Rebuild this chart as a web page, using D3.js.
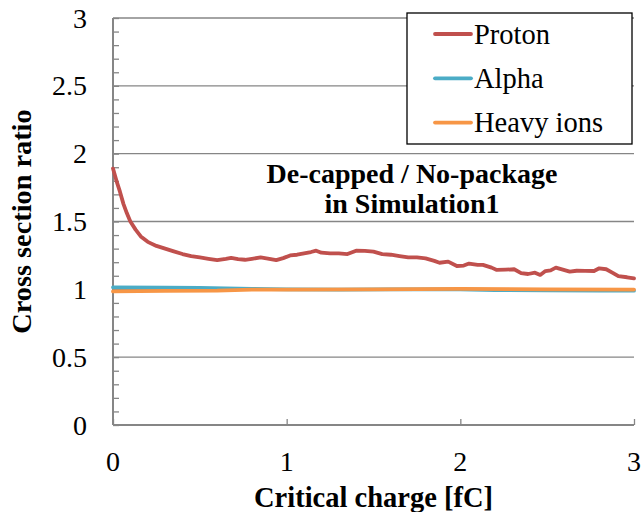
<!DOCTYPE html>
<html>
<head>
<meta charset="utf-8">
<script src="https://cdn.jsdelivr.net/npm/d3@7"></script>
<style>
  body { margin: 0; background: #fff; }
</style>
</head>
<body>
<div id="chart"></div>
<script>
// Cross section ratio vs critical charge (De-capped / No-package)
const protonX = [0, 0.02, 0.04, 0.06, 0.08, 0.10, 0.13, 0.16, 0.20, 0.25, 0.30, 0.35, 0.40, 0.45, 0.50,
    0.55, 0.60, 0.65, 0.68, 0.72, 0.76, 0.80, 0.85, 0.90, 0.94, 0.98, 1.02, 1.06, 1.10, 1.14, 1.17,
    1.20, 1.25, 1.30, 1.35, 1.40, 1.45, 1.50, 1.55, 1.60, 1.65, 1.70, 1.75, 1.80, 1.85, 1.88, 1.93,
    1.98, 2.02, 2.05, 2.10, 2.13, 2.18, 2.21, 2.26, 2.31, 2.35, 2.39, 2.43, 2.46, 2.49, 2.52, 2.55,
    2.59, 2.63, 2.67, 2.72, 2.77, 2.80, 2.84, 2.88, 2.91, 2.96, 3.00];
const protonY = [1.89, 1.80, 1.72, 1.63, 1.56, 1.50, 1.44, 1.39, 1.35, 1.32, 1.30, 1.28, 1.26, 1.245, 1.235,
    1.225, 1.215, 1.225, 1.232, 1.222, 1.218, 1.225, 1.235, 1.225, 1.215, 1.23, 1.25, 1.255, 1.265, 1.275, 1.285,
    1.27, 1.265, 1.265, 1.26, 1.285, 1.283, 1.278, 1.26, 1.255, 1.245, 1.236, 1.235, 1.228, 1.21, 1.196, 1.204,
    1.172, 1.175, 1.19, 1.18, 1.18, 1.16, 1.143, 1.145, 1.148, 1.12, 1.113, 1.123, 1.106, 1.135, 1.14, 1.16,
    1.145, 1.13, 1.137, 1.136, 1.135, 1.155, 1.148, 1.12, 1.097, 1.089, 1.081];

const alphaX = [0, 0.3, 0.5, 0.8, 1.0, 1.3, 1.6, 2.0, 2.2, 2.5, 2.8, 3.0];
const alphaY = [1.015, 1.012, 1.01, 1.003, 1.0, 0.998, 1.0, 1.0, 0.995, 0.993, 0.99, 0.99];

const heavyX = [0, 0.3, 0.6, 0.8, 1.0, 1.5, 2.0, 2.5, 3.0];
const heavyY = [0.985, 0.988, 0.99, 0.998, 0.998, 1.0, 1.003, 1.0, 0.998];

const seriesNames = ['Proton', 'Alpha', 'Heavy ions'];
const seriesColors = ['#C0504D', '#4BACC6', '#F79646'];
const xTicks = [0, 1, 2, 3];
const yTicks = [0, 0.5, 1, 1.5, 2, 2.5, 3];
const noteLines = ['De-capped / No-package', 'in Simulation1'];

const width = 641, height = 512;
const margin = { top: 18, right: 7, bottom: 87, left: 113 };
const w = width - margin.left - margin.right;
const h = height - margin.top - margin.bottom;
const axisColor = '#868686';
const serif = '"Liberation Serif"';

const svg = d3.select('#chart').append('svg')
    .attr('width', width)
    .attr('height', height);

const g = svg.append('g')
    .attr('transform', `translate(${margin.left},${margin.top})`);

const x = d3.scaleLinear().domain([0, 3]).range([0, w]);
const y = d3.scaleLinear().domain([0, 3]).range([h, 0]);

// Gridlines
g.append('g')
    .selectAll('line')
    .data(yTicks.filter(d => d > 0))
    .enter()
    .append('line')
    .attr('x1', 0)
    .attr('x2', w)
    .attr('y1', d => y(d))
    .attr('y2', d => y(d))
    .attr('stroke', axisColor)
    .attr('stroke-width', 1.3);

// Y axis with minor ticks (inward)
const yAxis = g.append('g')
    .call(d3.axisRight(y).ticks(30).tickSize(6).tickFormat(''));
yAxis.select('.domain').remove();
yAxis.selectAll('line').attr('stroke', axisColor).attr('stroke-width', 1.3);
g.append('line')
    .attr('x1', 0).attr('x2', 0).attr('y1', 0).attr('y2', h)
    .attr('stroke', axisColor).attr('stroke-width', 2);

g.selectAll('.ylab')
    .data(yTicks)
    .enter()
    .append('text')
    .attr('class', 'ylab')
    .attr('x', -26)
    .attr('y', d => y(d))
    .attr('dy', '0.34em')
    .attr('text-anchor', 'end')
    .style('font-family', serif)
    .style('font-size', '28px')
    .text(d => d);

// X axis with ticks pointing up
const xAxis = g.append('g')
    .attr('transform', `translate(0,${h})`)
    .call(d3.axisTop(x).tickValues(xTicks).tickSize(6).tickFormat(''));
xAxis.select('.domain').remove();
xAxis.selectAll('line').attr('stroke', axisColor).attr('stroke-width', 1.3);
g.append('line')
    .attr('x1', 0).attr('x2', w).attr('y1', h).attr('y2', h)
    .attr('stroke', axisColor).attr('stroke-width', 2);

g.selectAll('.xlab')
    .data(xTicks)
    .enter()
    .append('text')
    .attr('class', 'xlab')
    .attr('x', d => x(d))
    .attr('y', h + 46)
    .attr('text-anchor', 'middle')
    .style('font-family', serif)
    .style('font-size', '28px')
    .text(d => d);

// Axis titles
g.append('text')
    .attr('x', w / 2)
    .attr('y', h + 82)
    .attr('text-anchor', 'middle')
    .style('font-family', serif)
    .style('font-size', '28.5px')
    .style('font-weight', 'bold')
    .text('Critical charge [fC]');

g.append('text')
    .attr('transform', 'rotate(-90)')
    .attr('x', -h / 2)
    .attr('y', -82)
    .attr('text-anchor', 'middle')
    .style('font-family', serif)
    .style('font-size', '28.3px')
    .style('font-weight', 'bold')
    .text('Cross section ratio');

// Lines
const line = d3.line()
    .x(d => x(d[0]))
    .y(d => y(d[1]));

const series = [
    d3.zip(protonX, protonY),
    d3.zip(alphaX, alphaY),
    d3.zip(heavyX, heavyY)
];

g.selectAll('.series')
    .data(series)
    .enter()
    .append('path')
    .attr('class', 'series')
    .attr('d', line)
    .attr('fill', 'none')
    .attr('stroke', (d, i) => seriesColors[i])
    .attr('stroke-width', 3.8)
    .attr('stroke-linejoin', 'round')
    .attr('stroke-linecap', 'round');

// Annotation
g.selectAll('.note')
    .data(noteLines)
    .enter()
    .append('text')
    .attr('class', 'note')
    .attr('x', 412 - margin.left)
    .attr('y', (d, i) => 183 - margin.top + i * 30)
    .attr('text-anchor', 'middle')
    .style('font-family', serif)
    .style('font-size', '28px')
    .style('font-weight', 'bold')
    .text(d => d);

// Legend
const legend = svg.append('g')
    .attr('transform', 'translate(407,13)');

legend.append('rect')
    .attr('width', 225)
    .attr('height', 131)
    .attr('fill', '#fff')
    .attr('stroke', '#000')
    .attr('stroke-width', 1.3);

const items = legend.selectAll('.item')
    .data(seriesNames)
    .enter()
    .append('g')
    .attr('class', 'item')
    .attr('transform', (d, i) => `translate(0,${21 + i * 44.3})`);

items.append('line')
    .attr('x1', 28)
    .attr('x2', 64)
    .attr('stroke', (d, i) => seriesColors[i])
    .attr('stroke-width', 3.8)
    .attr('stroke-linecap', 'round');

items.append('text')
    .attr('x', 67)
    .attr('dy', '0.34em')
    .style('font-family', serif)
    .style('font-size', '28.5px')
    .text(d => d);
</script>
</body>
</html>
